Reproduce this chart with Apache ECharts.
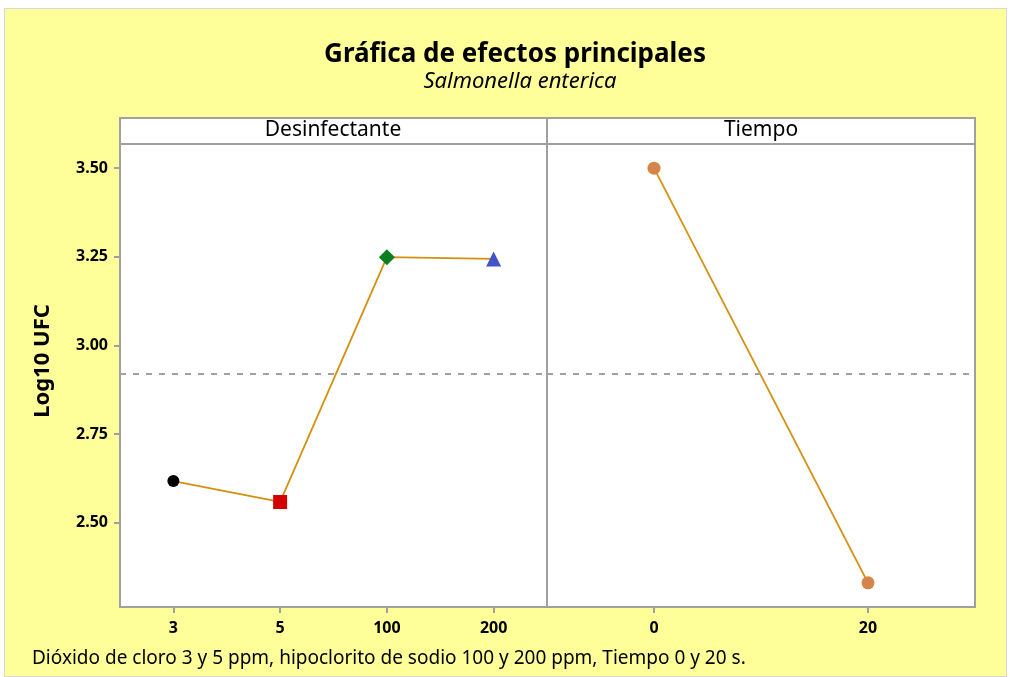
<!DOCTYPE html>
<html>
<head>
<meta charset="utf-8">
<script src="https://cdn.jsdelivr.net/npm/echarts@6/dist/echarts.min.js"></script>
<style>
  html, body { margin: 0; padding: 0; background: #fff; }
  #frame { position: absolute; left: 4px; top: 8px; width: 1001px; height: 667px; background: #ffff99; border: 1px solid #d8d8d8; }
  #main { position: absolute; left: 0; top: 0; width: 1010px; height: 677px; }
</style>
</head>
<body>
<div id="frame"></div>
<div id="main"></div>
<script>
// datos
var desinfCats = ['3', '5', '100', '200'];
var desinfMeans = [2.618, 2.559, 3.249, 3.244];
var desinfSymbols = ['circle', 'rect', 'diamond', 'triangle'];
var desinfColors = ['#000000', '#d40000', '#0b7d23', '#3f54c6'];
var desinfSizes = [12, 14, 16, 15];

var tiempoCats = ['0', '20'];
var tiempoMeans = [3.50, 2.331];

var grandMean = 2.915;
var yTicks = [2.5, 2.75, 3.0, 3.25, 3.5];

var font = '"Noto Sans", "Open Sans", sans-serif';
var lineColor = '#d4900f';
var frameColor = '#a0a0a0';

var myChart = echarts.init(document.getElementById('main'));

var desinfData = desinfMeans.map(function (v, i) {
    return {
        value: v,
        symbol: desinfSymbols[i],
        symbolSize: desinfSizes[i],
        itemStyle: { color: desinfColors[i] }
    };
});

function yAxisCfg(idx, showLabels) {
    return {
        type: 'value',
        gridIndex: idx,
        min: 2.263,
        max: 3.568,
        splitLine: { show: false },
        axisLine: { show: false },
        axisTick: {
            show: showLabels,
            length: 6,
            customValues: yTicks,
            lineStyle: { color: frameColor, width: 2 }
        },
        axisLabel: {
            show: showLabels,
            customValues: yTicks,
            formatter: function (v) { return v.toFixed(2); },
            color: '#000',
            fontFamily: font,
            fontSize: 16,
            fontWeight: 'bold',
            margin: 12
        },
        name: showLabels ? 'Log10 UFC' : '',
        nameLocation: 'middle',
        nameGap: 66,
        nameTextStyle: { color: '#000', fontFamily: font, fontSize: 22, fontWeight: 'bold', padding: [0, 0, 0, 29] }
    };
}

function xAxisCfg(idx, cats) {
    return {
        type: 'category',
        gridIndex: idx,
        data: cats,
        boundaryGap: true,
        axisLine: { show: false },
        axisTick: { show: true, alignWithLabel: true, length: 6, lineStyle: { color: frameColor, width: 2 } },
        axisLabel: { color: '#000', fontFamily: font, fontSize: 16, fontWeight: 'bold', margin: 13 }
    };
}

var meanLine = {
    silent: true,
    symbol: 'none',
    label: { show: false },
    lineStyle: { color: '#a0a0a0', type: [6, 7], width: 2 },
    data: [{ yAxis: grandMean }]
};

var option = {
    backgroundColor: 'transparent',
    animation: false,
    title: [{
        text: 'Gráfica de efectos principales',
        left: 510,
        top: 37,
        textAlign: 'center',
        textStyle: { fontFamily: font, fontSize: 26, fontWeight: 'bold', color: '#000' }
    }, {
        text: 'Salmonella enterica',
        left: 515,
        top: 66,
        textAlign: 'center',
        textStyle: { fontFamily: font, fontSize: 22, fontStyle: 'italic', fontWeight: 'normal', color: '#000' }
    }, {
        text: 'Dióxido de cloro 3 y 5 ppm, hipoclorito de sodio 100 y 200 ppm, Tiempo 0 y 20 s.',
        left: 27,
        top: 644,
        textStyle: { fontFamily: font, fontSize: 19, fontWeight: 'normal', color: '#000' }
    }],
    grid: [
        { left: 120, top: 144, width: 427, height: 463, show: true, backgroundColor: '#fff', borderColor: frameColor, borderWidth: 2 },
        { left: 547, top: 144, width: 428, height: 463, show: true, backgroundColor: '#fff', borderColor: frameColor, borderWidth: 2 }
    ],
    xAxis: [xAxisCfg(0, desinfCats), xAxisCfg(1, tiempoCats)],
    yAxis: [yAxisCfg(0, true), yAxisCfg(1, false)],
    graphic: [
        { type: 'rect', shape: { x: 120, y: 118, width: 427, height: 26 }, style: { fill: '#fff', stroke: frameColor, lineWidth: 2 } },
        { type: 'rect', shape: { x: 547, y: 118, width: 428, height: 26 }, style: { fill: '#fff', stroke: frameColor, lineWidth: 2 } },
        { type: 'text', x: 333, y: 130, style: { text: 'Desinfectante', fill: '#000', font: '21px ' + font, textAlign: 'center', textVerticalAlign: 'middle' } },
        { type: 'text', x: 761, y: 130, style: { text: 'Tiempo', fill: '#000', font: '21px ' + font, textAlign: 'center', textVerticalAlign: 'middle' } }
    ],
    series: [{
        name: 'Desinfectante',
        type: 'line',
        xAxisIndex: 0,
        yAxisIndex: 0,
        data: desinfData,
        lineStyle: { color: lineColor, width: 1.8 },
        markLine: meanLine
    }, {
        name: 'Tiempo',
        type: 'line',
        xAxisIndex: 1,
        yAxisIndex: 1,
        data: tiempoMeans,
        symbol: 'circle',
        symbolSize: 13,
        itemStyle: { color: '#d6844a' },
        lineStyle: { color: lineColor, width: 1.8 },
        markLine: meanLine
    }]
};

myChart.setOption(option);
</script>
</body>
</html>
